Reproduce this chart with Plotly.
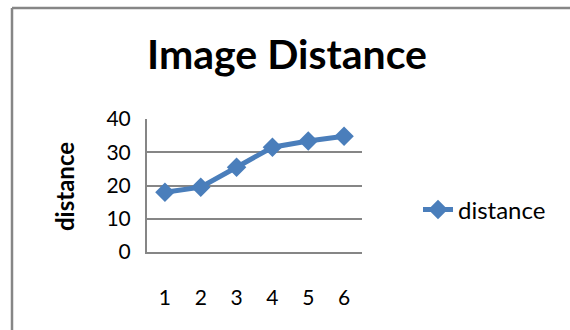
import plotly.graph_objects as go

# Measured image distance per trial
trials = [1, 2, 3, 4, 5, 6]
distance = [18.0, 19.5, 25.5, 31.5, 33.4, 34.8]
y_ticks = [0, 10, 20, 30, 40]

W, H = 570, 330
PLOT_L, PLOT_R, PLOT_T, PLOT_B = 147, 362, 119, 252

BLUE = "#4A7EBB"
GRID = "#868686"
FONT = "Lato"

fig = go.Figure()
fig.add_trace(go.Scatter(
    x=trials, y=distance, name="distance", mode="lines+markers",
    line=dict(color=BLUE, width=5),
    marker=dict(symbol="diamond", size=15, color=BLUE),
))

fig.update_layout(
    width=W, height=H,
    margin=dict(l=PLOT_L, r=W - PLOT_R, t=PLOT_T, b=H - PLOT_B, pad=0),
    paper_bgcolor="white", plot_bgcolor="white",
    font=dict(family=FONT, color="black", size=21),
    title=dict(text="<b>Image Distance</b>", font=dict(family=FONT, size=41, color="black"),
               x=287 / W, xanchor="center", xref="container",
               y=1 - 55 / H, yanchor="middle", yref="container"),
    showlegend=True,
    legend=dict(x=(418 - PLOT_L) / (PLOT_R - PLOT_L), xanchor="left",
                y=(PLOT_B - 210) / (PLOT_B - PLOT_T), yanchor="middle",
                font=dict(family=FONT, size=24), bgcolor="rgba(0,0,0,0)",
                itemwidth=30),
    xaxis=dict(range=[0.5, 6.5], tickmode="array", tickvals=trials,
               ticktext=[str(t) for t in trials], showgrid=False, zeroline=False,
               showline=True, linecolor=GRID, linewidth=2,
               ticks="outside", ticklen=26, tickcolor="rgba(0,0,0,0)",
               tickfont=dict(size=21)),
    yaxis=dict(range=[0, 40], tickmode="array", tickvals=y_ticks,
               showgrid=True, gridcolor=GRID, gridwidth=2, zeroline=False,
               showline=True, linecolor=GRID, linewidth=2,
               ticks="outside", ticklen=10, tickcolor="rgba(0,0,0,0)",
               tickfont=dict(size=21)),
    annotations=[dict(text="<b>distance</b>", textangle=-90,
                      xref="paper", yref="paper",
                      x=(64 - PLOT_L) / (PLOT_R - PLOT_L), y=(PLOT_B - 187) / (PLOT_B - PLOT_T),
                      xanchor="center", yanchor="middle", showarrow=False,
                      font=dict(family=FONT, size=24, color="black"))],
    shapes=[
        # chart frame: top edge and left edge
        dict(type="line", xref="paper", yref="paper",
             x0=(12 - PLOT_L) / (PLOT_R - PLOT_L), x1=(W - PLOT_L) / (PLOT_R - PLOT_L),
             y0=(PLOT_B - 8) / (PLOT_B - PLOT_T), y1=(PLOT_B - 8) / (PLOT_B - PLOT_T),
             line=dict(color=GRID, width=2.5)),
        dict(type="line", xref="paper", yref="paper",
             x0=(12 - PLOT_L) / (PLOT_R - PLOT_L), x1=(12 - PLOT_L) / (PLOT_R - PLOT_L),
             y0=(PLOT_B - 8) / (PLOT_B - PLOT_T), y1=(PLOT_B - H) / (PLOT_B - PLOT_T),
             line=dict(color=GRID, width=2.5)),
    ],
)

fig.write_html("out.html")
